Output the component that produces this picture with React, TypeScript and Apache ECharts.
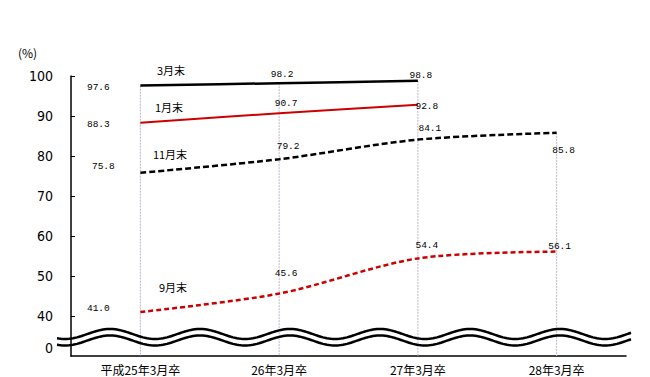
import React, { useEffect, useRef } from "react";
import * as echarts from "echarts";

const categories = ["平成25年3月卒", "26年3月卒", "27年3月卒", "28年3月卒"];
const march = [97.6, 98.2, 98.8, null];
const january = [88.3, 90.7, 92.8, null];
const november = [75.8, 79.2, 84.1, 85.8];
const september = [41.0, 45.6, 54.4, 56.1];
const seriesNames = ["3月末", "1月末", "11月末", "9月末"];
const yTickValues = [40, 50, 60, 70, 80, 90, 100];
const breakLabelValue = 32; // position where "0" is written under the break
const yMin = 30;
const yMax = 100;

// label offsets (layout only)
const marchOffsets = [[-42, 2], [3, -9], [3, -5], [0, 0]];
const januaryOffsets = [[-42, 2], [7, -10], [9, 2], [0, 0]];
const novemberOffsets = [[-37, -6], [9, -13], [12, -11], [7, 18]];
const septemberOffsets = [[-42, -4], [7, -20], [9, -13], [3, -5]];

const labelFont = { fontFamily: "'Liberation Mono', 'DejaVu Sans Mono', monospace", fontSize: 9.5, color: "#000" };

function withLabels(values: (number | null)[], offsets: number[][]) {
  return values.map((v, i) =>
    v == null
      ? null
      : { value: v, label: { show: true, position: "inside", offset: offsets[i], formatter: v.toFixed(1), ...labelFont } }
  );
}

function wavePoints(offsetY: number) {
  const pts: number[][] = [];
  for (let x = 57; x <= 632; x += 2) {
    pts.push([x, 334 + offsetY - 5 * Math.cos((2 * Math.PI * (x - 110)) / 90)]);
  }
  return pts;
}

export default function App() {
  const ref = useRef<HTMLDivElement>(null);
  useEffect(() => {
    if (!ref.current) return;
    const chart = echarts.init(ref.current, null, { renderer: "svg" });
    const all = [march, january, november, september];
    const tops = categories.map((_, i) => {
      const vals = all.map((s) => s[i]).filter((v) => v != null) as number[];
      return [i, Math.max(...vals)];
    });
    const lineBase = {
      type: "line",
      symbol: "circle",
      symbolSize: 1,
      itemStyle: { color: "rgba(0,0,0,0)" },
      smooth: 0.3,
      connectNulls: false,
      z: 3,
    };
    chart.setOption({
      animation: false,
      backgroundColor: "#fff",
      grid: { left: 71, right: 24, top: 76, bottom: 21 },
      xAxis: {
        type: "category",
        data: categories,
        boundaryGap: true,
        axisLine: { lineStyle: { color: "#000", width: 1.5 } },
        axisTick: { show: false },
        axisLabel: { color: "#000", fontSize: 12, margin: 7, fontFamily: "'Noto Sans CJK JP', sans-serif" },
      },
      yAxis: {
        type: "value",
        min: yMin,
        max: yMax,
        interval: 10,
        axisLine: { show: true, lineStyle: { color: "#000", width: 1.5 } },
        axisTick: { show: true, inside: true, length: 4, lineStyle: { color: "#000", width: 1 }, customValues: yTickValues },
        axisLabel: {
          color: "#000",
          fontSize: 14,
          margin: 18,
          fontFamily: "'Liberation Sans Narrow', 'DejaVu Sans Condensed', sans-serif",
          customValues: [breakLabelValue, ...yTickValues],
          formatter: (v: number) => (v === breakLabelValue ? "0" : String(v)),
        },
        splitLine: { show: false },
      },
      series: [
        {
          type: "custom",
          data: tops,
          z: 1,
          silent: true,
          renderItem: (params: any, api: any) => {
            const p0 = api.coord([api.value(0), api.value(1)]);
            const p1 = api.coord([api.value(0), yMin]);
            return {
              type: "line",
              shape: { x1: p0[0], y1: p0[1], x2: p1[0], y2: p1[1] },
              style: { stroke: "#bcb4c8", lineWidth: 1, lineDash: [2, 1] },
            };
          },
        },
        { ...lineBase, name: seriesNames[0], data: withLabels(march, marchOffsets), lineStyle: { color: "#000", width: 2.5 } },
        { ...lineBase, name: seriesNames[1], data: withLabels(january, januaryOffsets), lineStyle: { color: "#cc0000", width: 2 } },
        { ...lineBase, name: seriesNames[2], data: withLabels(november, novemberOffsets), lineStyle: { color: "#000", width: 2.5, type: [6, 3] } },
        { ...lineBase, name: seriesNames[3], data: withLabels(september, septemberOffsets), lineStyle: { color: "#cc0000", width: 2.5, type: [5, 3] } },
      ],
      graphic: [
        { type: "text", x: 18, y: 52, style: { text: "(%)", fontSize: 12, fill: "#000", verticalAlign: "middle", fontFamily: "'Noto Sans CJK JP', sans-serif" } },
        { type: "text", x: 171, y: 70, style: { text: seriesNames[0], fontSize: 11, fill: "#000", align: "center", verticalAlign: "middle", fontFamily: "'Noto Sans CJK JP', sans-serif" } },
        { type: "text", x: 169, y: 107, style: { text: seriesNames[1], fontSize: 11, fill: "#000", align: "center", verticalAlign: "middle", fontFamily: "'Noto Sans CJK JP', sans-serif" } },
        { type: "text", x: 170, y: 154, style: { text: seriesNames[2], fontSize: 11, fill: "#000", align: "center", verticalAlign: "middle", fontFamily: "'Noto Sans CJK JP', sans-serif" } },
        { type: "text", x: 173, y: 287, style: { text: seriesNames[3], fontSize: 11, fill: "#000", align: "center", verticalAlign: "middle", fontFamily: "'Noto Sans CJK JP', sans-serif" } },
        { type: "polyline", z: 10, shape: { points: wavePoints(0) }, style: { stroke: "#000", lineWidth: 2.5, fill: null } },
        { type: "polyline", z: 10, shape: { points: wavePoints(6.5) }, style: { stroke: "#000", lineWidth: 2.5, fill: null } },
      ],
    });
    return () => chart.dispose();
  }, []);
  return <div ref={ref} style={{ width: 650, height: 377, position: "absolute", left: 0, top: 0 }} />;
}
